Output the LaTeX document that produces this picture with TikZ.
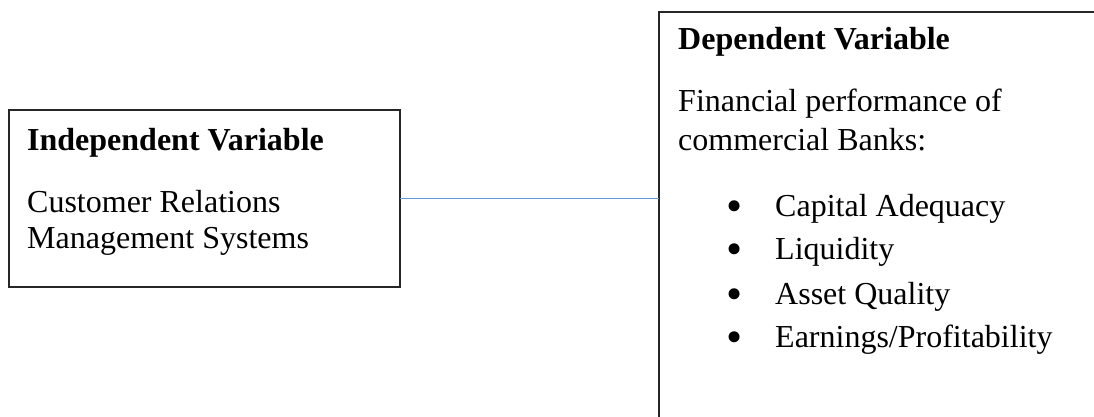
\documentclass[tikz,border=0pt]{standalone}
\usepackage{fontspec}
\setmainfont{Liberation Serif}
\begin{document}
\begin{tikzpicture}[x=1pt,y=-1pt,
  box/.style={draw=black!85, line width=1.5pt, inner sep=0pt, outer sep=0pt},
  txt/.style={anchor=base west, inner sep=0pt, font=\fontsize{32}{36}\selectfont},
  head/.style={txt, font=\fontsize{32}{36}\selectfont\bfseries},
  bul/.style={anchor=base, inner sep=0pt, font=\fontsize{46}{50}\selectfont},
  conn/.style={color={rgb,255:red,91;green,155;blue,213}, line width=1.8pt}]
\useasboundingbox (0,0) rectangle (1094,417);
\clip (0,0) rectangle (1094,417);
% boxes
\node[box, minimum width=391pt, minimum height=177pt] (iv) at (204.5,198.5) {};
\node[box, minimum width=451pt, minimum height=420pt] (dv) at (884.5,222) {};
% left texts
\node[head] (ivh) at (27,150) {Independent Variable};
\node[txt] (iv1) at (27,212) {Customer Relations};
\node[txt] (iv2) at (27,248) {Management Systems};
% right texts
\node[head] (dvh) at (678,50) {Dependent Variable};
\node[txt] (dv1) at (678,112) {Financial performance of};
\node[txt] (dv2) at (678,150) {commercial Banks:};
\node[bul] (b1) at (735,221) {•};
\node[txt] (i1) at (775,216) {Capital Adequacy};
\node[bul] (b2) at (735,264) {•};
\node[txt] (i2) at (775,259) {Liquidity};
\node[bul] (b3) at (735,309) {•};
\node[txt] (i3) at (775,304) {Asset Quality};
\node[bul] (b4) at (735,352) {•};
\node[txt] (i4) at (775,347) {Earnings/Profitability};
% connector
\draw[conn] (iv.east) -- (iv.east -| dv.west);
\end{tikzpicture}
\end{document}
